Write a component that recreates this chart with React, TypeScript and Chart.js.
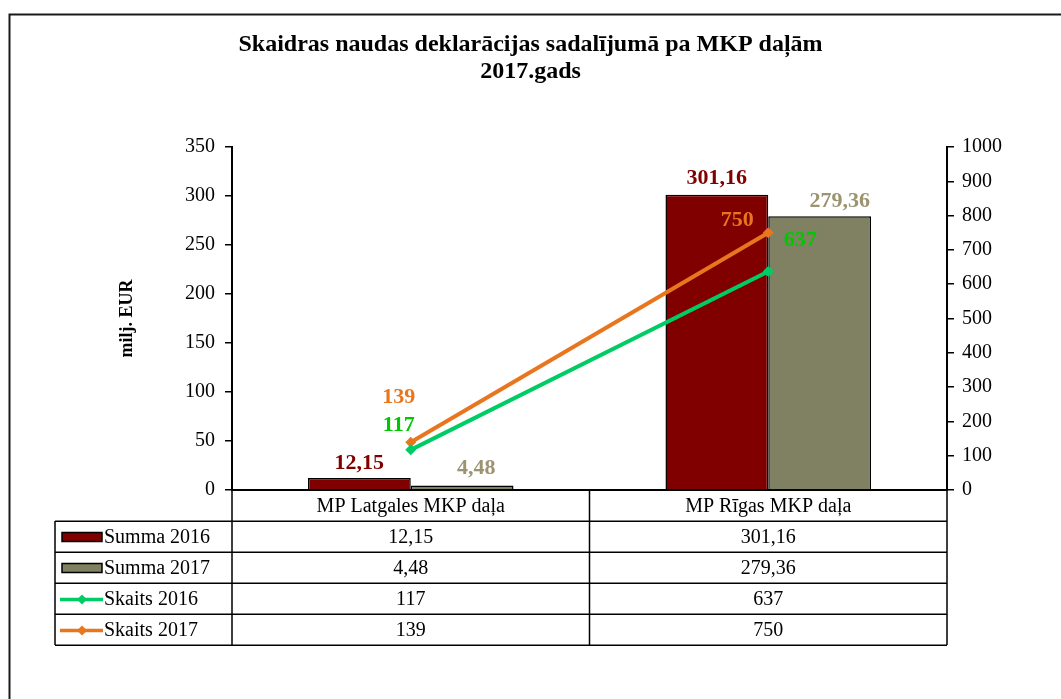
import React, { useEffect, useRef } from "react";
import { Chart, registerables } from "chart.js";

Chart.register(...registerables);

const titleLines = ["Skaidras naudas deklarācijas sadalījumā pa MKP daļām", "2017.gads"];
const categories = ["MP Latgales MKP daļa", "MP Rīgas MKP daļa"];
const seriesNames = ["Summa 2016", "Summa 2017", "Skaits 2016", "Skaits 2017"];
const summa2016 = [12.15, 301.16];
const summa2017 = [4.48, 279.36];
const skaits2016 = [117, 637];
const skaits2017 = [139, 750];
const leftAxisMax = 350;
const leftAxisStep = 50;
const rightAxisMax = 1000;
const rightAxisStep = 100;
const yAxisTitle = "milj. EUR";

const FONT = "'Liberation Serif', 'Times New Roman', Times, serif";
const colors = {
  s2016: "#800000",
  s2017: "#808062",
  s2017Label: "#9C9470",
  k2016: "#00CC66",
  k2016Label: "#00C800",
  k2017: "#E8761E",
  k2017Label: "#E8761E",
};

const fmtSum = (v: number) => v.toFixed(2).replace(".", ",");
const fmtCount = (v: number) => String(v);

// label offsets [dataset][point] in px relative to the element position
const labelOffsets: number[][][] = [
  [[0, -15], [0, -17]],
  [[14, -17], [20, -15]],
  [[-12, -25], [32, -31]],
  [[-12, -45], [-31, -12]],
];
const labelColors = [colors.s2016, colors.s2017Label, colors.k2016Label, colors.k2017Label];
const formatters = [fmtSum, fmtSum, fmtCount, fmtCount];
const seriesData = [summa2016, summa2017, skaits2016, skaits2017];

const framePlugin = {
  id: "frame",
  beforeDraw(chart: any) {
    const ctx = chart.ctx;
    ctx.save();
    ctx.fillStyle = "#fff";
    ctx.fillRect(0, 0, chart.width, chart.height);
    ctx.strokeStyle = "#1a1a1a";
    ctx.lineWidth = 2;
    ctx.strokeRect(9.5, 14.5, 2000, 2000);
    ctx.restore();
  },
};

const labelsPlugin = {
  id: "valueLabels",
  afterDatasetsDraw(chart: any) {
    const ctx = chart.ctx;
    ctx.save();
    ctx.font = `bold 22px ${FONT}`;
    ctx.textAlign = "center";
    ctx.textBaseline = "middle";
    chart.data.datasets.forEach((ds: any, i: number) => {
      const meta = chart.getDatasetMeta(i);
      meta.data.forEach((el: any, j: number) => {
        const [dx, dy] = labelOffsets[i][j];
        ctx.fillStyle = labelColors[i];
        ctx.fillText(formatters[i](ds.data[j]), el.x + dx, el.y + dy);
      });
    });
    ctx.restore();
  },
};

const tablePlugin = {
  id: "dataTable",
  afterDraw(chart: any) {
    const ctx = chart.ctx;
    const area = chart.chartArea;
    const xs = chart.scales.x;
    const rowH = 31;
    const top = area.bottom;
    const legendLeft = 55;
    const mid = (xs.getPixelForValue(0) + xs.getPixelForValue(1)) / 2;
    const nRows = seriesNames.length + 1;
    const bottom = top + rowH * nRows;
    ctx.save();
    ctx.strokeStyle = "#000";
    ctx.lineWidth = 1.5;
    ctx.beginPath();
    for (let k = 1; k <= nRows; k++) {
      const y = Math.round(top + rowH * k) + 0.25;
      ctx.moveTo(legendLeft, y);
      ctx.lineTo(area.right, y);
    }
    ctx.moveTo(legendLeft, top + rowH);
    ctx.lineTo(legendLeft, bottom);
    [area.left, mid, area.right].forEach((x) => {
      ctx.moveTo(x, top);
      ctx.lineTo(x, bottom);
    });
    ctx.stroke();

    ctx.fillStyle = "#000";
    ctx.font = `20px ${FONT}`;
    ctx.textBaseline = "middle";
    ctx.textAlign = "center";
    categories.forEach((c, j) => {
      ctx.fillText(c, xs.getPixelForValue(j), top + rowH / 2 + 1);
    });
    seriesNames.forEach((name, i) => {
      const cy = top + rowH * (i + 1) + rowH / 2 + 1;
      ctx.textAlign = "left";
      ctx.fillStyle = "#000";
      ctx.fillText(name, 104, cy);
      ctx.textAlign = "center";
      seriesData[i].forEach((v, j) => {
        ctx.fillText(formatters[i](v), xs.getPixelForValue(j), cy);
      });
      const ds = chart.data.datasets[i];
      if (i < 2) {
        ctx.fillStyle = ds.backgroundColor;
        ctx.fillRect(62, cy - 5, 40, 9);
        ctx.lineWidth = 1.5;
        ctx.strokeStyle = "#000";
        ctx.strokeRect(62, cy - 5, 40, 9);
      } else {
        ctx.strokeStyle = ds.borderColor;
        ctx.lineWidth = 3.5;
        ctx.beginPath();
        ctx.moveTo(60, cy);
        ctx.lineTo(103, cy);
        ctx.stroke();
        ctx.fillStyle = ds.borderColor;
        ctx.beginPath();
        ctx.moveTo(82, cy - 5);
        ctx.lineTo(87, cy);
        ctx.lineTo(82, cy + 5);
        ctx.lineTo(77, cy);
        ctx.closePath();
        ctx.fill();
      }
      ctx.fillStyle = "#000";
      ctx.strokeStyle = "#000";
    });
    ctx.restore();
  },
};

export default function App() {
  const ref = useRef<HTMLCanvasElement | null>(null);
  useEffect(() => {
    if (!ref.current) return;
    Chart.defaults.font.family = FONT;
    Chart.defaults.color = "#000";
    const chart = new Chart(ref.current, {
      type: "bar",
      data: {
        labels: categories,
        datasets: [
          {
            type: "bar",
            label: seriesNames[0],
            data: summa2016,
            backgroundColor: colors.s2016,
            borderColor: "#000",
            borderWidth: 1.5,
            yAxisID: "y",
            order: 2,
            categoryPercentage: 0.575,
            barPercentage: 1,
          },
          {
            type: "bar",
            label: seriesNames[1],
            data: summa2017,
            backgroundColor: colors.s2017,
            borderColor: "#000",
            borderWidth: 1.5,
            yAxisID: "y",
            order: 2,
            categoryPercentage: 0.575,
            barPercentage: 1,
          },
          {
            type: "line",
            label: seriesNames[2],
            data: skaits2016,
            borderColor: colors.k2016,
            backgroundColor: colors.k2016,
            borderWidth: 4,
            pointStyle: "rectRot",
            pointRadius: 5.5,
            pointBorderWidth: 0,
            yAxisID: "y1",
            order: 0,
          },
          {
            type: "line",
            label: seriesNames[3],
            data: skaits2017,
            borderColor: colors.k2017,
            backgroundColor: colors.k2017,
            borderWidth: 4,
            pointStyle: "rectRot",
            pointRadius: 5.5,
            pointBorderWidth: 0,
            yAxisID: "y1",
            order: 0,
          },
        ] as any,
      },
      options: {
        responsive: false,
        animation: false,
        layout: { padding: 0 },
        plugins: {
          legend: { display: false },
          tooltip: { enabled: false },
          title: {
            display: true,
            text: titleLines,
            color: "#000",
            font: { size: 24, weight: "bold", family: FONT, lineHeight: 1.125 },
            padding: { top: 31, bottom: 62 },
          },
        },
        scales: {
          x: {
            offset: true,
            grid: { display: false },
            ticks: { display: false },
            border: { display: true, color: "#000", width: 2 },
            afterFit: (s: any) => {
              s.height = 209;
            },
          },
          y: {
            position: "left",
            min: 0,
            max: leftAxisMax,
            ticks: {
              stepSize: leftAxisStep,
              font: { size: 20, family: FONT },
              color: "#000",
              padding: 10,
              callback: (v: any) => String(v),
            },
            grid: { drawOnChartArea: false, drawTicks: true, tickLength: 7, color: "#000", lineWidth: 1.5 },
            border: { display: true, color: "#000", width: 2 },
            title: {
              display: true,
              text: yAxisTitle,
              font: { size: 18, weight: "bold", family: FONT },
              color: "#000",
              padding: { top: 117, bottom: 0 },
            },
            afterFit: (s: any) => {
              s.width = 232;
            },
          },
          y1: {
            position: "right",
            min: 0,
            max: rightAxisMax,
            ticks: {
              stepSize: rightAxisStep,
              font: { size: 20, family: FONT },
              color: "#000",
              padding: 8,
              callback: (v: any) => String(v),
            },
            grid: { drawOnChartArea: false, drawTicks: true, tickLength: 7, color: "#000", lineWidth: 1.5 },
            border: { display: true, color: "#000", width: 2 },
            afterFit: (s: any) => {
              s.width = 114;
            },
          },
        },
      } as any,
      plugins: [framePlugin, labelsPlugin, tablePlugin],
    });
    return () => chart.destroy();
  }, []);
  return (
    <div style={{ position: "absolute", left: 0, top: 0, width: 1061, height: 699, background: "#fff" }}>
      <canvas ref={ref} width={1061} height={699} style={{ width: 1061, height: 699, display: "block" }} />
    </div>
  );
}
